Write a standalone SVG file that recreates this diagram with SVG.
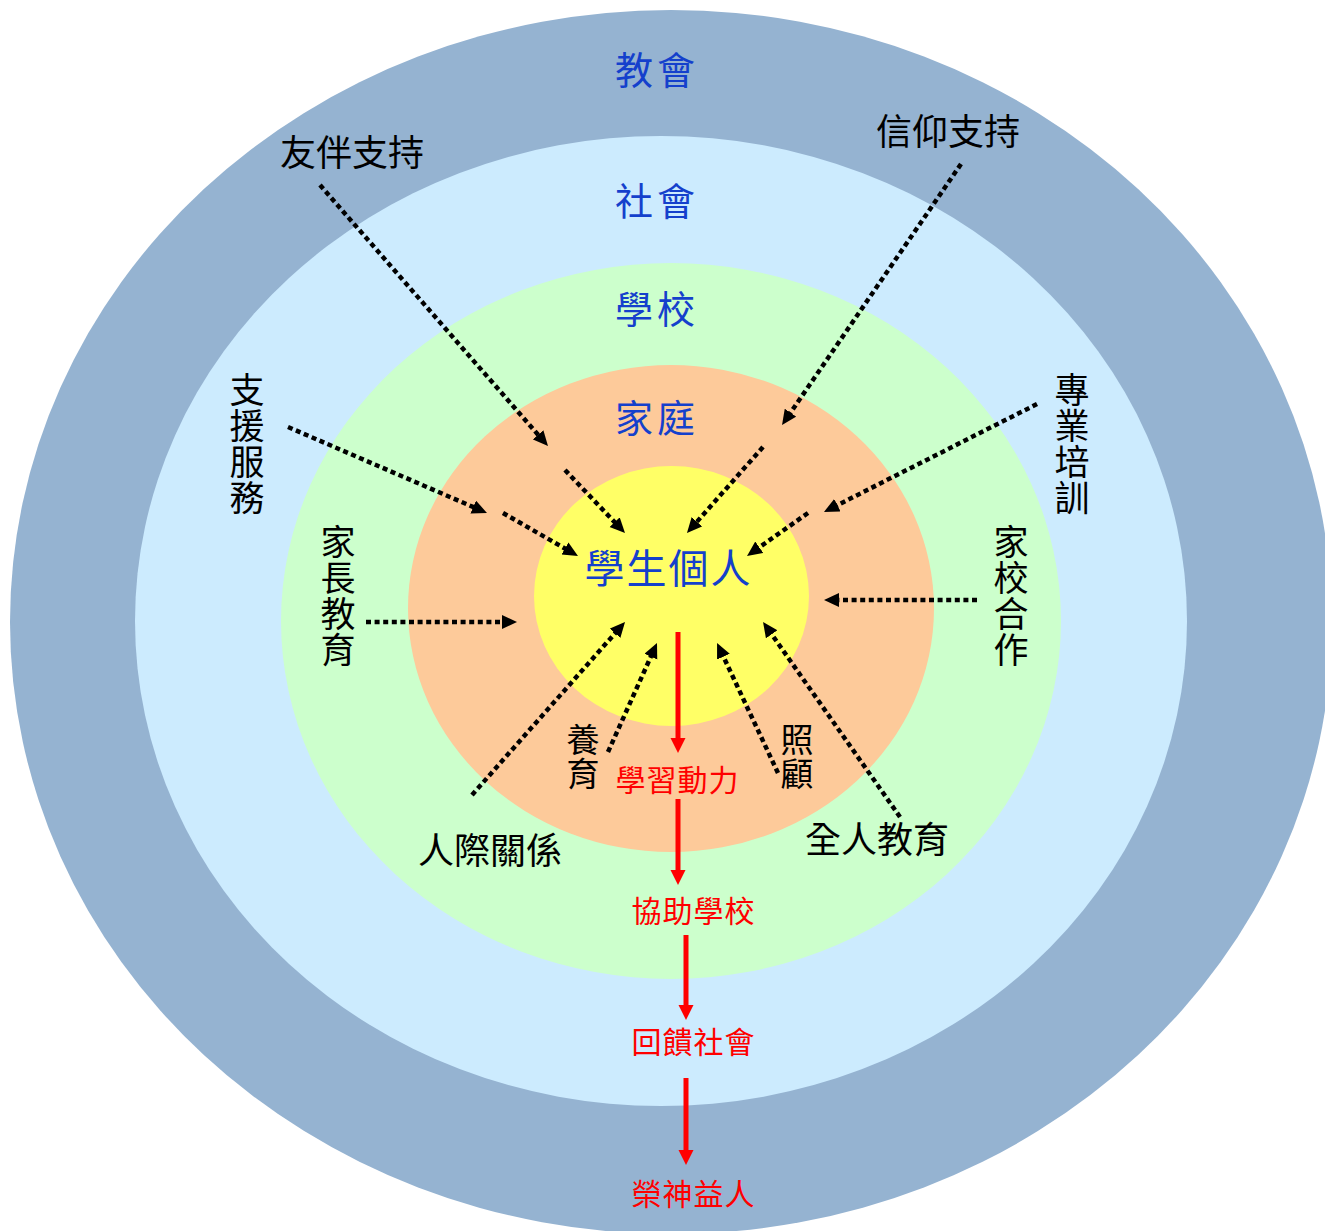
<svg xmlns="http://www.w3.org/2000/svg" width="1325" height="1231" viewBox="0 0 1325 1231">
<style>
text{font-family:"Noto Sans CJK TC","Noto Sans CJK SC",sans-serif;text-anchor:middle}
.blue{fill:#1440cc;font-size:38px;letter-spacing:4px}
.lbl{fill:#000;font-size:36px}
.vt{fill:#000;font-size:35px}
.sm{fill:#000;font-size:33px}
.red{fill:#ff0000;font-size:30px;letter-spacing:1px}
.dot{stroke:#000;stroke-width:4.5;stroke-dasharray:5 3.6;fill:none}
.flow{stroke:#ff0000;stroke-width:5;fill:none}
</style>
<defs>
<marker id="ah" markerUnits="userSpaceOnUse" markerWidth="16" markerHeight="15" refX="5" refY="7" orient="auto" viewBox="0 0 16 15">
<path d="M0,0 L15,7 L0,14 z" fill="#000"/>
</marker>
<marker id="rh" markerUnits="userSpaceOnUse" markerWidth="16" markerHeight="16" refX="5" refY="7.5" orient="auto" viewBox="0 0 16 16">
<path d="M0,0 L15,7.5 L0,15 z" fill="#ff0000"/>
</marker>
</defs>
<rect width="1325" height="1231" fill="#ffffff"/>
<g id="church"><ellipse cx="671" cy="622" rx="661" ry="612" fill="#95b3d1"/><text class="blue" x="657" y="84">教會</text></g>
<g id="society"><ellipse cx="661" cy="621" rx="526" ry="485" fill="#ccebfe"/><text class="blue" x="657" y="215">社會</text></g>
<g id="school"><ellipse cx="671" cy="621" rx="390" ry="358" fill="#ccffcc"/><text class="blue" x="657" y="323">學校</text></g>
<g id="family"><ellipse cx="671" cy="608.5" rx="263" ry="243.5" fill="#fdca9a"/><text class="blue" x="657" y="432">家庭</text></g>
<g id="individual"><ellipse cx="671.5" cy="596" rx="137.5" ry="130" fill="#ffff66"/><text class="blue" style="font-size:40px;letter-spacing:2px" x="668.5" y="583">學生個人</text></g>
<g id="connectors">
<line class="dot" x1="320" y1="185" x2="541.4" y2="438.5" marker-end="url(#ah)"/>
<line class="dot" x1="565" y1="470" x2="618.1" y2="525.8" marker-end="url(#ah)"/>
<line class="dot" x1="961" y1="164" x2="787.7" y2="416.8" marker-end="url(#ah)"/>
<line class="dot" x1="763" y1="447" x2="693.6" y2="525.5" marker-end="url(#ah)"/>
<line class="dot" x1="288" y1="427" x2="477.8" y2="509" marker-end="url(#ah)"/>
<line class="dot" x1="503" y1="513" x2="569.3" y2="551" marker-end="url(#ah)"/>
<line class="dot" x1="1037" y1="404" x2="832.9" y2="507.4" marker-end="url(#ah)"/>
<line class="dot" x1="808" y1="513" x2="755.2" y2="550.2" marker-end="url(#ah)"/>
<line class="dot" x1="366" y1="622" x2="507" y2="622" marker-end="url(#ah)"/>
<line class="dot" x1="977" y1="600" x2="834" y2="600" marker-end="url(#ah)"/>
<line class="dot" x1="472" y1="795" x2="618.4" y2="629.5" marker-end="url(#ah)"/>
<line class="dot" x1="608" y1="752" x2="652.9" y2="652.1" marker-end="url(#ah)"/>
<line class="dot" x1="778" y1="773" x2="721.3" y2="652.1" marker-end="url(#ah)"/>
<line class="dot" x1="900" y1="817" x2="768.8" y2="630.2" marker-end="url(#ah)"/>
<line class="flow" x1="678" y1="632" x2="678" y2="743" marker-end="url(#rh)"/>
<line class="flow" x1="678" y1="799" x2="678" y2="875" marker-end="url(#rh)"/>
<line class="flow" x1="686" y1="935" x2="686" y2="1010" marker-end="url(#rh)"/>
<line class="flow" x1="686" y1="1078" x2="686" y2="1155" marker-end="url(#rh)"/>
</g>
<g id="label-peer"><text class="lbl" x="352" y="166">友伴支持</text></g>
<g id="label-faith"><text class="lbl" x="948" y="145">信仰支持</text></g>
<g id="label-support"><text class="vt"><tspan x="247" y="403">支</tspan><tspan x="247" y="439">援</tspan><tspan x="247" y="475">服</tspan><tspan x="247" y="511">務</tspan></text></g>
<g id="label-training"><text class="vt"><tspan x="1072" y="403">專</tspan><tspan x="1072" y="439">業</tspan><tspan x="1072" y="475">培</tspan><tspan x="1072" y="511">訓</tspan></text></g>
<g id="label-parent"><text class="vt"><tspan x="338" y="555">家</tspan><tspan x="338" y="591">長</tspan><tspan x="338" y="627">教</tspan><tspan x="338" y="663">育</tspan></text></g>
<g id="label-homeschool"><text class="vt"><tspan x="1011" y="555">家</tspan><tspan x="1011" y="591">校</tspan><tspan x="1011" y="627">合</tspan><tspan x="1011" y="663">作</tspan></text></g>
<g id="label-nurture"><text class="sm"><tspan x="583" y="752">養</tspan><tspan x="583" y="786">育</tspan></text></g>
<g id="label-care"><text class="sm"><tspan x="797" y="752">照</tspan><tspan x="797" y="786">顧</tspan></text></g>
<g id="label-relations"><text class="lbl" x="490" y="864">人際關係</text></g>
<g id="label-whole"><text class="lbl" x="877" y="853">全人教育</text></g>
<g id="flow-motivation"><text class="red" x="677.5" y="791">學習動力</text></g>
<g id="flow-school"><text class="red" x="693.5" y="922">協助學校</text></g>
<g id="flow-society"><text class="red" x="693.5" y="1053">回饋社會</text></g>
<g id="flow-glory"><text class="red" x="693.5" y="1205">榮神益人</text></g>
</svg>
